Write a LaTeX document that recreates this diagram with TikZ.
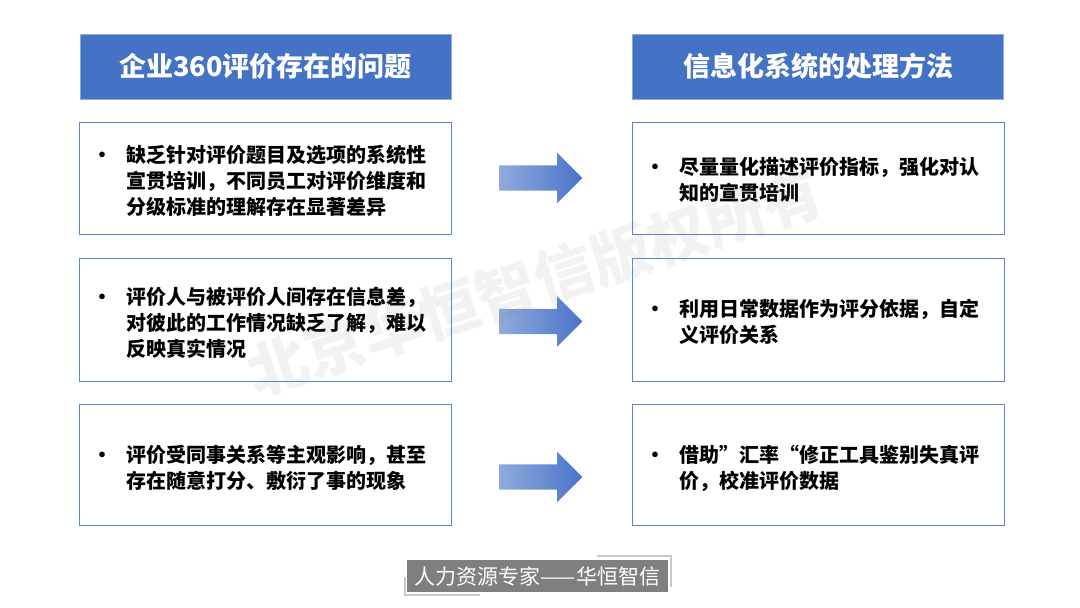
\documentclass[tikz,border=0pt]{standalone}
\usepackage{fontspec}
\setmainfont{Noto Sans CJK SC}
\usetikzlibrary{positioning,calc,shapes.arrows}

\definecolor{headblue}{HTML}{4472C4}
\definecolor{lineblue}{HTML}{5B84D0}
\definecolor{arrowlight}{HTML}{8FAADC}
\definecolor{arrowdark}{HTML}{4A74C9}
\definecolor{footgray}{HTML}{7F7F7F}
\definecolor{markgray}{HTML}{C8C8C8}

\newcommand{\firstline}[1]{\makebox[29pt][l]{\hspace*{-5pt}•}#1}
\newcommand{\nextline}[1]{\hspace*{29pt}#1}

\begin{document}
\begin{tikzpicture}[x=1pt,y=-1pt,node distance=23pt,
  head box/.style={rectangle,draw=arrowlight,line width=0.8pt,fill=headblue,text=white,
    minimum width=371pt,minimum height=65pt,inner sep=0pt,font=\fontsize{27}{33}\selectfont\bfseries},
  item box/.style={rectangle,draw=lineblue,line width=1pt,fill=white,minimum width=372pt,inner sep=0pt},
  item text/.style={anchor=west,align=left,inner sep=0pt,font=\fontsize{20}{26}\selectfont\bfseries},
  block arrow/.style={single arrow,single arrow head extend=12.5pt,single arrow head indent=0pt,
    inner xsep=0pt,inner ysep=12.5pt,minimum height=83pt,left color=arrowlight,right color=arrowdark,draw=none},
  corner/.style={draw=markgray,line width=1.5pt}]

  \useasboundingbox (0,0) rectangle (1080,608);

  % headers
  \node[head box] (lhead) at (265.5,66.5) {企业360评价存在的问题};
  \node[head box] (rhead) [right=181pt of lhead] {信息化系统的处理方法};

  % left column
  \node[item box,minimum height=112pt] (l1) [below=23pt of lhead] {};
  \node[item box,minimum height=123pt] (l2) [below=23pt of l1] {};
  \node[item box,minimum height=121pt] (l3) [below=22pt of l2] {};

  % right column
  \node[item box,minimum height=112pt] (r1) [right=180pt of l1] {};
  \node[item box,minimum height=123pt] (r2) [right=180pt of l2] {};
  \node[item box,minimum height=121pt] (r3) [right=180pt of l3] {};

  \node[item text] (t1) at ([xshift=18pt,yshift=-2pt]l1.west)
    {\firstline{缺乏针对评价题目及选项的系统性}\\\nextline{宣贯培训，不同员工对评价维度和}\\\nextline{分级标准的理解存在显著差异}};
  \node[item text] (t2) at ([xshift=18pt,yshift=-2pt]l2.west)
    {\firstline{评价人与被评价人间存在信息差，}\\\nextline{对彼此的工作情况缺乏了解，难以}\\\nextline{反映真实情况}};
  \node[item text] (t3) at ([xshift=18pt,yshift=-3pt]l3.west)
    {\firstline{评价受同事关系等主观影响，甚至}\\\nextline{存在随意打分、敷衍了事的现象}};

  \node[item text] (s1) at ([xshift=18pt,yshift=-1pt]r1.west)
    {\firstline{尽量量化描述评价指标，强化对认}\\\nextline{知的宣贯培训}};
  \node[item text] (s2) at ([xshift=18pt,yshift=-1pt]r2.west)
    {\firstline{利用日常数据作为评分依据，自定}\\\nextline{义评价关系}};
  \node[item text] (s3) at ([xshift=18pt,yshift=-3pt]r3.west)
    {\firstline{借助”汇率“修正工具鉴别失真评}\\\nextline{价，校准评价数据}};

  % arrows
  \node[block arrow] (a1) at (534.5,178) {};
  \node[block arrow] (a2) at (534.5,321.5) {};
  \node[block arrow] (a3) at (534.5,477) {};

  % footer
  \node[fill=footgray,text=white,minimum width=261pt,minimum height=32pt,inner sep=0pt,
    font=\fontsize{21}{25}\selectfont] (foot) at (537.5,576) {人力资源专家——华恒智信};
  \draw[corner] ($(foot.north east)+(-71,-4)$) -| ($(foot.north east)+(3,27)$);
  \draw[corner] ($(foot.south west)+(-2,-15)$) |- ($(foot.south west)+(73,3)$);

  % watermark
  \node[text=gray,opacity=0.1,rotate=18,font=\fontsize{60}{60}\selectfont\bfseries] (mark) at (535,282)
    {北京华恒智信版权所有};
\end{tikzpicture}
\end{document}
